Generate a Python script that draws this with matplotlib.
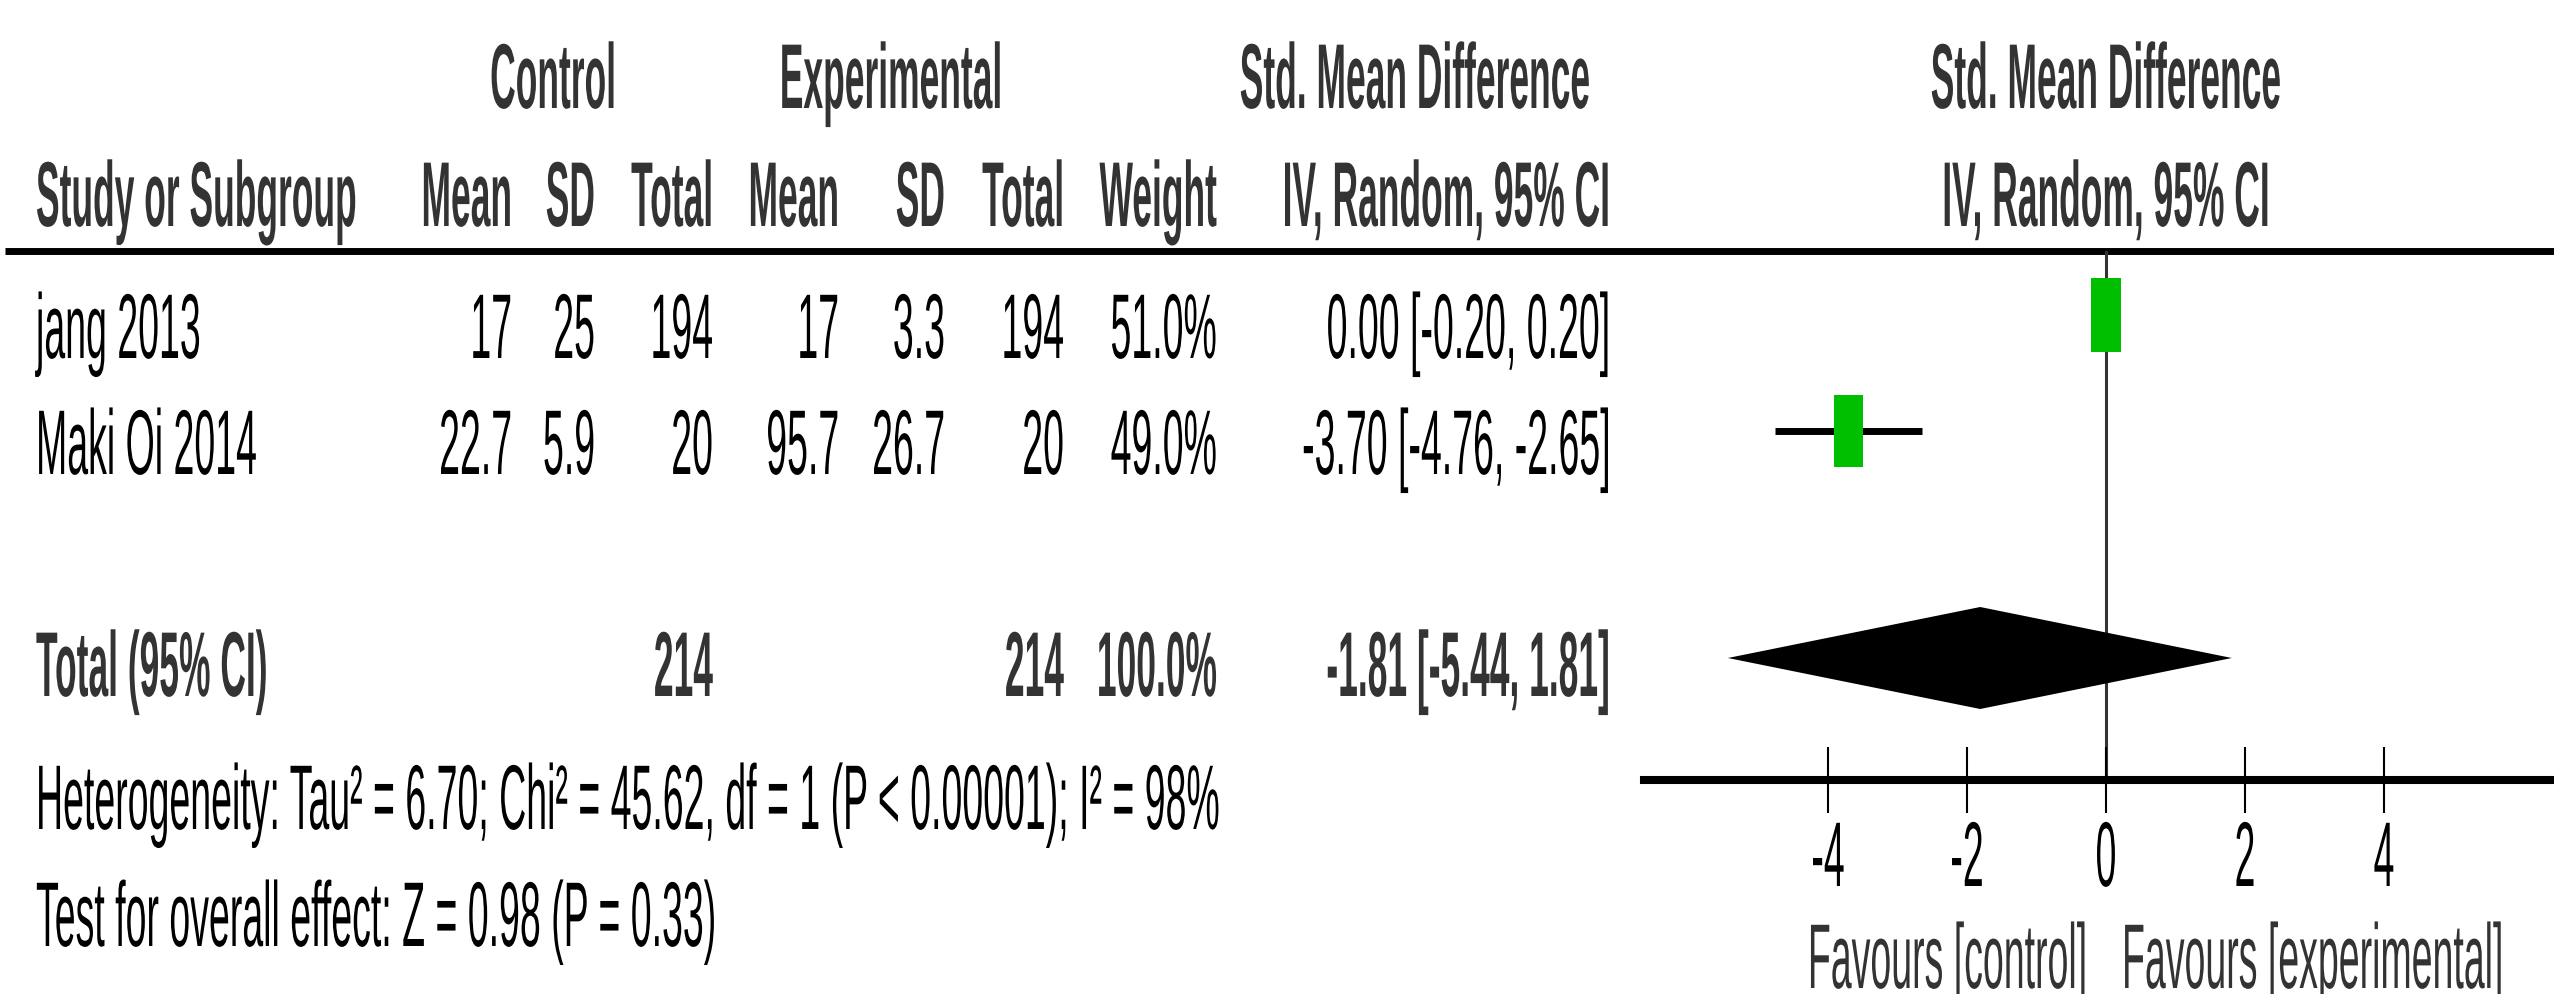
import matplotlib
matplotlib.use('Agg')
import numpy as np
import matplotlib.pyplot as plt
from matplotlib.patches import Rectangle, Polygon
from matplotlib.patheffects import AbstractPathEffect
from matplotlib.transforms import Affine2D

# study data
studies = ['jang 2013', 'Maki Oi 2014']
ctrl_mean = [17, 22.7]
ctrl_sd = [25, 5.9]
ctrl_n = [194, 20]
exp_mean = [17, 95.7]
exp_sd = [3.3, 26.7]
exp_n = [194, 20]
weights = [51.0, 49.0]
smd = [0.00, -3.70]
ci_low = [-0.20, -4.76]
ci_high = [0.20, -2.65]

# pooled estimate
total_smd = -1.81
total_low = -5.44
total_high = 1.81

heterogeneity = 'Heterogeneity: Tau² = 6.70; Chi² = 45.62, df = 1 (P < 0.00001); I² = 98%'
overall_effect = 'Test for overall effect: Z = 0.98 (P = 0.33)'
ticks = [-4, -2, 0, 2, 4]


class Stretch(AbstractPathEffect):
    """Draw text taller than normal, scaled about its baseline."""

    def __init__(self, sy):
        super().__init__((0, 0))
        self._sy = sy

    def draw_path(self, renderer, gc, tpath, affine, rgbFace=None):
        renderer.draw_path(gc, tpath, Affine2D().scale(1.0, self._sy) + affine, rgbFace)


W, H = 2554, 995
fig = plt.figure(figsize=(W / 100, H / 100), dpi=100)
fig.patch.set_facecolor('white')

bg = fig.add_axes([0, 0, 1, 1])
bg.set_xlim(0, W)
bg.set_ylim(H, 0)
bg.axis('off')


def put(ax, x, y, s, ha='left', bold=False, color='black'):
    size = 25.5 if bold else 27
    sy = 2.6 if bold else 2.45
    ax.text(x, y, s, ha=ha, va='baseline', fontsize=size,
            fontweight='bold' if bold else 'normal', family='Liberation Sans',
            color=color, path_effects=[Stretch(sy)])


hdr = '#333333'
col_right = [512, 595, 713, 839, 945, 1064, 1217, 1610]
x_left = 36

# headers
put(bg, 553, 109, 'Control', ha='center', bold=True, color=hdr)
put(bg, 891, 109, 'Experimental', ha='center', bold=True, color=hdr)
put(bg, 1415, 109, 'Std. Mean Difference', ha='center', bold=True, color=hdr)
put(bg, x_left, 227, 'Study or Subgroup', bold=True, color=hdr)
for x, s in zip(col_right, ['Mean', 'SD', 'Total', 'Mean', 'SD', 'Total', 'Weight',
                            'IV, Random, 95% CI']):
    put(bg, x, 227, s, ha='right', bold=True, color=hdr)

bg.plot([5, W], [252, 252], color='black', lw=5, solid_capstyle='butt')

# study rows
row_y = [316, 432]
for i, name in enumerate(studies):
    base = row_y[i] + 43
    put(bg, x_left, base, name)
    vals = [f'{ctrl_mean[i]:g}', f'{ctrl_sd[i]:g}', f'{ctrl_n[i]}',
            f'{exp_mean[i]:g}', f'{exp_sd[i]:g}', f'{exp_n[i]}',
            f'{weights[i]:.1f}%',
            f'{smd[i]:.2f} [{ci_low[i]:.2f}, {ci_high[i]:.2f}]']
    for x, s in zip(col_right, vals):
        put(bg, x, base, s, ha='right')

# total row
total_y = 659
tb = total_y + 38
put(bg, x_left, tb, 'Total (95% CI)', bold=True, color=hdr)
put(bg, col_right[2], tb, f'{sum(ctrl_n)}', ha='right', bold=True, color=hdr)
put(bg, col_right[5], tb, f'{sum(exp_n)}', ha='right', bold=True, color=hdr)
put(bg, col_right[6], tb, f'{sum(weights):.1f}%', ha='right', bold=True, color=hdr)
put(bg, col_right[7], tb, f'{total_smd:.2f} [{total_low:.2f}, {total_high:.2f}]',
    ha='right', bold=True, color=hdr)

put(bg, x_left, 830, heterogeneity)
put(bg, x_left, 947, overall_effect)

# forest panel
ax_x0, ax_y = 1644, 781
fa = fig.add_axes([ax_x0 / W, (H - ax_y) / H, 1 - ax_x0 / W, (ax_y - 252) / H])
fa.patch.set_visible(False)
fa.set_xlim(-6.647, 6.446)
fa.set_ylim(ax_y, 252)
for side in ['top', 'left', 'right']:
    fa.spines[side].set_visible(False)
fa.spines['bottom'].set_linewidth(5.8)
fa.spines['bottom'].set_color('black')
fa.set_yticks([])
fa.set_xticks(ticks)
fa.tick_params(axis='x', direction='inout', length=47, width=1.5, color='black',
               labelbottom=False)

fa.axvline(0, color='#333333', lw=2.2, zorder=1)

fa.hlines(row_y, ci_low, ci_high, color='black', lw=5, zorder=2)
for y, est, w in zip(row_y, smd, weights):
    s = np.sqrt(w / 100)
    bw, bh = 0.602 * s, 103.6 * s
    fa.add_patch(Rectangle((est - bw / 2, y - bh / 2), bw, bh,
                           facecolor='#00BF00', edgecolor='none', zorder=3))

fa.add_patch(Polygon([(total_low, total_y), (total_smd, total_y - 51),
                      (total_high, total_y), (total_smd, total_y + 51)],
                     closed=True, facecolor='black', edgecolor='none', zorder=3))

for t in ticks:
    put(fa, t, 887, f'{t}', ha='center')

put(bg, 2087, 989, 'Favours [control]', ha='right', color=hdr)
put(bg, 2122, 989, 'Favours [experimental]', color=hdr)

put(fa, 0, 109, 'Std. Mean Difference', ha='center', bold=True, color=hdr)
put(fa, 0, 227, 'IV, Random, 95% CI', ha='center', bold=True, color=hdr)

fig.savefig('out.png', dpi=100, facecolor='white')
